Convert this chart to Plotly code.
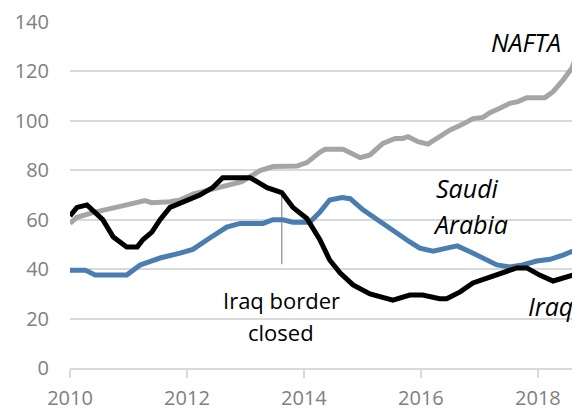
import plotly.graph_objects as go

# ---- data ----
nafta_x = [2010.00, 2010.12, 2010.39, 2010.68, 2010.97, 2011.28, 2011.40, 2011.71, 2011.88,
           2012.10, 2012.39, 2012.68, 2012.94, 2013.25, 2013.47, 2013.88, 2014.05, 2014.27,
           2014.36, 2014.67, 2014.96, 2015.13, 2015.35, 2015.56, 2015.69, 2015.78, 2015.95,
           2016.12, 2016.29, 2016.50, 2016.72, 2016.89, 2017.06, 2017.18, 2017.35, 2017.52,
           2017.66, 2017.81, 2018.12, 2018.26, 2018.43, 2018.58, 2018.72]
nafta_y = [58.5, 61, 62.9, 64.2, 66, 67.7, 66.9, 67.3, 68,
           70.4, 72, 73.7, 75.4, 79.9, 81.5, 81.7, 83.1, 87.3,
           88.5, 88.5, 85.1, 86.2, 90.9, 92.9, 92.9, 93.6, 91.6,
           90.6, 93.3, 96.3, 98.7, 100.9, 101.4, 103.3, 105.1, 107.1,
           107.8, 109.4, 109.4, 111.8, 116.5, 121.3, 129.5]

saudi_x = [2010.00, 2010.26, 2010.43, 2010.97, 2011.20, 2011.54, 2011.88, 2012.10, 2012.39,
           2012.68, 2012.91, 2013.30, 2013.47, 2013.64, 2013.81, 2014.10, 2014.27, 2014.44,
           2014.65, 2014.79, 2015.01, 2015.25, 2015.52, 2015.81, 2015.98, 2016.21, 2016.44,
           2016.62, 2016.84, 2017.06, 2017.30, 2017.52, 2017.74, 2017.98, 2018.21, 2018.43,
           2018.72]
saudi_y = [39.6, 39.6, 37.6, 37.6, 41.7, 44.5, 46.5, 48, 52.6,
           57, 58.5, 58.5, 60, 60, 59, 59, 63, 68,
           69, 68.5, 64, 60, 56, 51, 48.5, 47.3, 48.5,
           49.4, 47, 44.5, 41.7, 40.9, 41.7, 43.3, 44, 45.7,
           48.5]

iraq_x = [2010.00, 2010.12, 2010.29, 2010.39, 2010.56, 2010.74, 2010.97, 2011.15, 2011.25,
          2011.40, 2011.54, 2011.71, 2011.93, 2012.22, 2012.44, 2012.61, 2013.08, 2013.37,
          2013.62, 2013.81, 2014.05, 2014.27, 2014.44, 2014.62, 2014.84, 2015.13, 2015.52,
          2015.81, 2016.03, 2016.32, 2016.44, 2016.67, 2016.89, 2017.18, 2017.40, 2017.64,
          2017.81, 2018.03, 2018.26, 2018.50, 2018.72]
iraq_y = [61.5, 65, 66, 64, 60, 53, 49, 49, 52,
          55, 60, 65, 67, 70, 73, 77, 77, 73,
          71, 65, 60.5, 52, 43.7, 38.4, 33.6, 30, 27.5,
          29.5, 29.5, 28, 28, 30.8, 34.4, 36.8, 38.5, 40.5,
          40.5, 37.6, 35.2, 36.8, 38.4]

y_ticks = [0, 20, 40, 60, 80, 100, 120, 140]
x_ticks = [2010, 2012, 2014, 2016, 2018]

border_x = 2013.62
border_y = [42, 70]

FONT = "Open Sans"

fig = go.Figure()
fig.add_trace(go.Scatter(x=saudi_x, y=saudi_y, mode="lines", name="Saudi Arabia",
                         line=dict(color="#4A7EB0", width=5)))
fig.add_trace(go.Scatter(x=nafta_x, y=nafta_y, mode="lines", name="NAFTA",
                         line=dict(color="#A5A5A5", width=5)))
fig.add_trace(go.Scatter(x=iraq_x, y=iraq_y, mode="lines", name="Iraq",
                         line=dict(color="#000000", width=5)))

fig.add_shape(type="line", x0=border_x, x1=border_x, y0=border_y[0], y1=border_y[1],
              xref="x", yref="y", line=dict(color="#A0A0A0", width=1.5), layer="below")

ann = [
    ("<i>NAFTA</i>", 2017.79, 132, 25),
    ("<i>Saudi</i>", 2016.80, 72.8, 25),
    ("<i>Arabia</i>", 2016.84, 58.3, 25),
    ("Iraq border", 2013.61, 27.5, 22),
    ("closed", 2013.60, 14.6, 22),
    ("<i>Iraq</i>", 2018.22, 25, 25),
]
for t, x, y, s in ann:
    fig.add_annotation(text=t, x=x, y=y, xref="x", yref="y", showarrow=False,
                       font=dict(family=FONT, size=s, color="#000000"))

# page body has an 8px margin, so the figure is sized / placed to compensate
fig.update_layout(
    width=572, height=405,
    margin=dict(l=62, r=0, t=14, b=45),
    paper_bgcolor="white", plot_bgcolor="white",
    showlegend=False,
    font=dict(family=FONT, size=20, color="#808080"),
)
fig.update_xaxes(range=[2010, 2018.72], tickvals=x_ticks, ticktext=[str(v) for v in x_ticks],
                 automargin=False,
                 showgrid=False, zeroline=False, showline=True, linecolor="#D9D9D9", linewidth=1.5,
                 ticks="outside", ticklen=8, tickcolor="#D9D9D9", tickwidth=1.5,
                 ticklabelstandoff=3,
                 tickfont=dict(family=FONT, size=20, color="#808080"))
fig.update_yaxes(range=[0, 140], tickvals=y_ticks, showgrid=True, gridcolor="#D9D9D9", gridwidth=1.5,
                 automargin=False,
                 zeroline=False, showline=False, ticks="", ticklabelstandoff=20,
                 tickfont=dict(family=FONT, size=20, color="#808080"))

fig.write_html("out.html")
